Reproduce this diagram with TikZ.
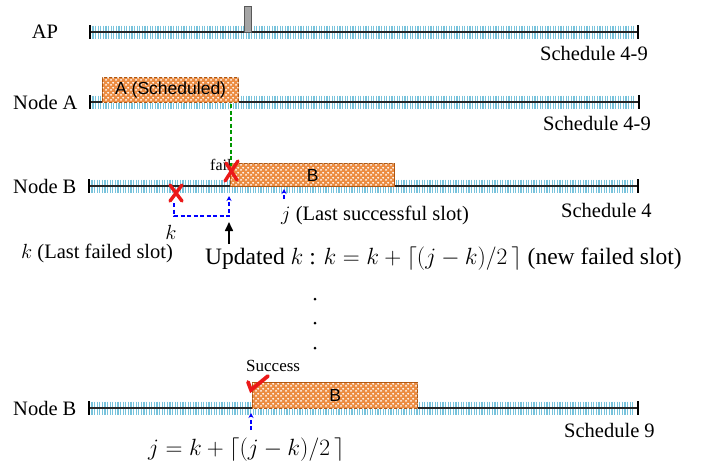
\RequirePackage{fix-cm}
\documentclass[tikz,border=0pt]{standalone}
\usepackage{fontspec}
\setmainfont{Liberation Serif}
\newfontfamily\boxfont{Liberation Sans}
\usetikzlibrary{patterns,arrows.meta,calc}
\definecolor{tickblue}{RGB}{120,195,220}
\definecolor{boxfill}{RGB}{236,140,65}
\definecolor{boxedge}{RGB}{175,85,15}
\definecolor{failred}{RGB}{235,25,25}
\definecolor{gline}{RGB}{0,150,0}
\definecolor{barfill}{RGB}{165,165,165}
\pgfdeclarepatternformonly{mydots}{\pgfpointorigin}{\pgfpoint{5pt}{5pt}}{\pgfpoint{5pt}{5pt}}{%
  \pgfpathcircle{\pgfpoint{1.25pt}{1.25pt}}{1.15pt}%
  \pgfpathcircle{\pgfpoint{3.75pt}{3.75pt}}{1.15pt}%
  \pgfusepath{fill}}
\newcommand\mytimeline[4]{%
  \coordinate (#1w) at (#3,#2);
  \coordinate (#1e) at (#4,#2);
  \pgfmathtruncatemacro\nticks{(#4-#3-6)/2.6}
  \foreach \t in {0,...,\nticks} {\draw[tick] ({#3+3+\t*2.6},{#2-6.5}) -- ++(0,13);}
  \draw[mainline] (#1w) -- (#1e);
  \draw[endbar] ($(#1w)+(0,-7)$) -- ($(#1w)+(0,7)$);
  \draw[endbar] ($(#1e)+(0,-7)$) -- ($(#1e)+(0,7)$);
}
\tikzset{
  tick/.style={tickblue, line width=1.1pt},
  mainline/.style={black!85, line width=1.3pt},
  endbar/.style={black, line width=1.4pt},
  lbl/.style={font=\fontsize{20.5}{22}\selectfont, inner sep=0pt},
  big/.style={font=\fontsize{23.5}{25}\selectfont, inner sep=0pt},
  small/.style={font=\fontsize{16}{17}\selectfont, inner sep=0pt},
  box/.style={draw=boxedge, line width=1.3pt, fill=boxfill, inner sep=0pt,
    postaction={pattern=mydots, pattern color=white},
    font=\boxfont\fontsize{17.5}{18}\selectfont, anchor=north west},
  bl/.style={blue, line width=1.3pt, dash pattern=on 4pt off 2.5pt},
  redx/.style={failred, line width=3.4pt, line cap=round},
}
\begin{document}
\begin{tikzpicture}[x=1pt,y=-1pt]
\useasboundingbox (0,0) rectangle (704,466);

% timelines
\mytimeline{ap}{32}{90}{638}
\mytimeline{na}{102}{90}{639}
\mytimeline{nb}{186}{89}{638}
\mytimeline{nc}{408}{89}{638}

% AP
\node[lbl] (apl) at (45,32) {AP};
\node[draw=gray!70!black, fill=barfill, line width=0.6pt, minimum width=7pt, minimum height=26pt, inner sep=0pt, anchor=north west] (bar) at (244,6) {};
\node[lbl, anchor=west] (s1) at (540,53) {Schedule 4-9};

% Node A
\node[lbl, anchor=west] (nal) at (13,102) {Node A};
\node[box, minimum width=136pt, minimum height=25pt] (boxA) at (102,77) {A (Scheduled)};
\node[lbl, anchor=west] (s2) at (543,123) {Schedule 4-9};

% Node B (first)
\node[lbl, anchor=west] (nbl) at (13,186) {Node B};
\node[box, minimum width=164pt, minimum height=23pt] (boxB) at (230,163) {B};
\node[lbl, anchor=west] (s3) at (561,210) {Schedule 4};
\coordinate (gtop) at (231,104);
\coordinate (gbot) at (231,166);
\draw[gline, line width=1.3pt, dash pattern=on 4pt off 2.5pt] (gtop) -- (gbot);
\node[small, anchor=west] (fail) at (210,165) {fail};
\coordinate (x1) at (176,193);
\coordinate (x2) at (231,171);
\draw[redx] ($(x1)+(-6,-8)$) -- ($(x1)+(6,8)$);
\draw[redx] ($(x1)+(6,-8)$) -- ($(x1)+(-6,8)$);
\draw[redx] ($(x2)+(-6,10)$) -- ($(x2)+(7,-10)$);
\draw[redx] ($(x2)+(-5,-8)$) -- ($(x2)+(6,9)$);

% bracket k
\coordinate (kb) at (174,203);
\coordinate (kl) at (174,216);
\coordinate (kr) at (229,216);
\coordinate (kt) at (229,196);
\draw[bl, -{Stealth[length=5pt,width=5pt]}] (kb) -- (kl) -- (kr) -- (kt);
\node[lbl] (klab) at (171,232) {$k$};

% j arrow
\coordinate (jb) at (284,199);
\coordinate (jt) at (284,189);
\draw[bl, -{Stealth[length=5pt,width=5pt]}] (jb) -- (jt);
\node[lbl, anchor=west] (jlab) at (281,215) {$j$ (Last successful slot)};

% labels
\node[lbl, anchor=west] (klast) at (21,253) {$k$ (Last failed slot)};
\node[big, anchor=west] (upd) at (205,259) {Updated $k$ : $k = k + \lceil (j-k)/2\,\rceil$ (new failed slot)};
\coordinate (ua) at (229,244);
\coordinate (ub) at (229,222);
\draw[line width=1.6pt, -{Triangle[length=9pt,width=8pt]}] (ua) -- (ub);

% dots
\fill (315,299) circle (1.5);
\fill (315,323) circle (1.5);
\fill (315,348) circle (1.5);

% Node B (second)
\node[lbl, anchor=west] (ncl) at (13,408) {Node B};
\node[box, minimum width=165pt, minimum height=26pt] (boxC) at (252,382) {B};
\node[lbl, anchor=west] (s4) at (564,430) {Schedule 9};
\node[small, font=\fontsize{17}{18}\selectfont, anchor=west] (succ) at (246,366) {Success};
\draw[redx, line width=3.8pt] (248,382) -- (251,390) -- (268,376);
\coordinate (cb) at (251,430);
\coordinate (ct) at (251,413);
\draw[bl, -{Stealth[length=5pt,width=5pt]}] (cb) -- (ct);
\node[big, anchor=west] (jform) at (148,450) {$j = k + \lceil (j-k)/2\,\rceil$};
\end{tikzpicture}
\end{document}
